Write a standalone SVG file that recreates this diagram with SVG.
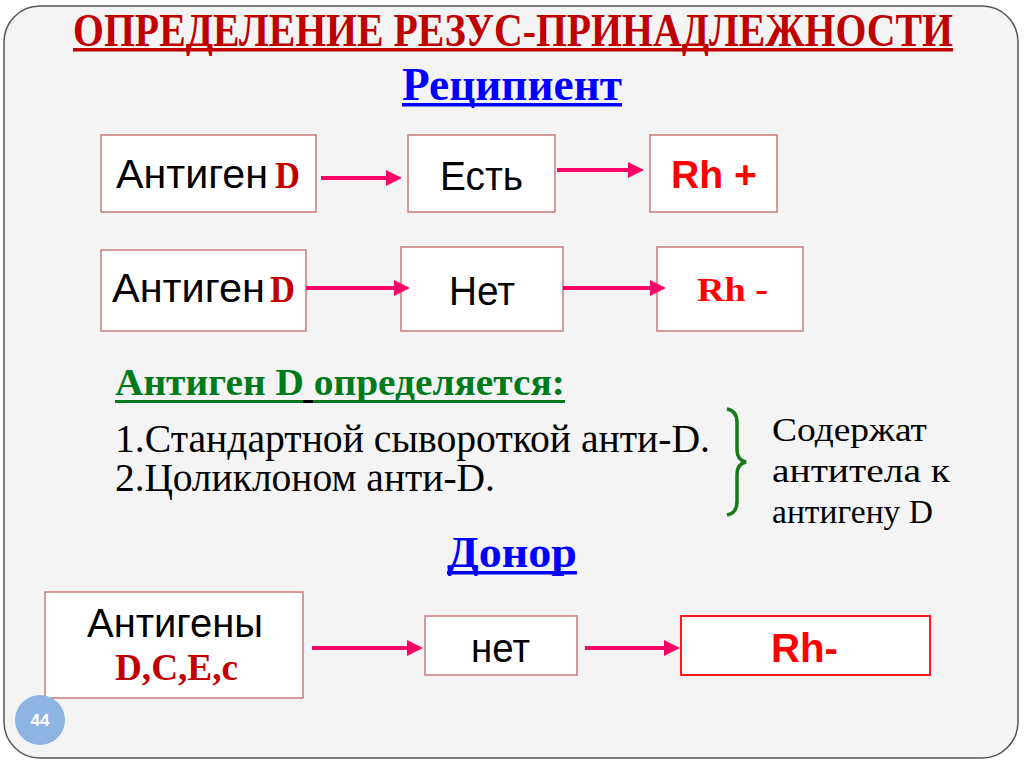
<svg xmlns="http://www.w3.org/2000/svg" width="1024" height="767" viewBox="0 0 1024 767">
<style>
.box{fill:#ffffff;stroke:#c97a7a;stroke-width:1.5}
.boxr{fill:#ffffff;stroke:#ff1a1a;stroke-width:2}
.sans{font-family:"Liberation Sans",Arial,sans-serif}
.serif{font-family:"Liberation Serif","Times New Roman",serif}
.blk{fill:#000000}
.dred{fill:#c00000;font-weight:bold}
.conn{stroke:#ff0066;stroke-width:4;fill:none}
</style>
<defs>
<marker id="ah" markerWidth="4" markerHeight="4" refX="1" refY="2" orient="auto" markerUnits="strokeWidth">
<path d="M0,0 L4,2 L0,4 z" fill="#ff0066"/>
</marker>
</defs>
<rect x="0" y="0" width="1024" height="767" fill="#ffffff"/>
<rect x="4" y="6" width="1014" height="752" rx="36" ry="36" fill="#f4f4f4" stroke="#555555" stroke-width="1.5"/>

<g id="title">
<text x="73" y="46" class="serif" font-size="47" font-weight="bold" fill="#c00000" textLength="880" lengthAdjust="spacingAndGlyphs">ОПРЕДЕЛЕНИЕ РЕЗУС-ПРИНАДЛЕЖНОСТИ</text>
<rect x="73" y="48" width="880" height="3.5" fill="#c00000"/>
</g>

<g id="recipient-heading">
<text x="402" y="100" class="serif" font-size="46" font-weight="bold" fill="#0000ff" textLength="220" lengthAdjust="spacingAndGlyphs">Реципиент</text>
<rect x="402" y="103" width="220" height="3.5" fill="#0000ff"/>
</g>

<g id="r1-antigen">
<rect class="box" x="101" y="135" width="215" height="77"/>
<text x="116" y="188" class="sans blk" font-size="40" textLength="152" lengthAdjust="spacingAndGlyphs">Антиген</text>
<text x="275" y="188" class="serif dred" font-size="38" textLength="25" lengthAdjust="spacingAndGlyphs">D</text>
</g>
<g id="r1-est">
<rect class="box" x="408" y="135" width="147" height="77"/>
<text x="440" y="190" class="sans blk" font-size="40" textLength="83" lengthAdjust="spacingAndGlyphs">Есть</text>
</g>
<g id="r1-rhplus">
<rect class="box" x="650" y="135" width="127" height="77"/>
<text x="671" y="188" class="sans" font-size="39" font-weight="bold" fill="#ff0000" textLength="86" lengthAdjust="spacingAndGlyphs">Rh +</text>
</g>

<g id="r2-antigen">
<rect class="box" x="101" y="250" width="205" height="81"/>
<text x="112" y="302" class="sans blk" font-size="40" textLength="153" lengthAdjust="spacingAndGlyphs">Антиген</text>
<text x="270" y="302" class="serif dred" font-size="38" textLength="25" lengthAdjust="spacingAndGlyphs">D</text>
</g>
<g id="r2-net">
<rect class="box" x="401" y="247" width="162" height="84"/>
<text x="449" y="305" class="sans blk" font-size="40" textLength="66" lengthAdjust="spacingAndGlyphs">Нет</text>
</g>
<g id="r2-rhminus">
<rect class="box" x="657" y="247" width="146" height="84"/>
<text x="697" y="301" class="serif" font-weight="bold" fill="#ff0000" font-size="34" textLength="71" lengthAdjust="spacingAndGlyphs">Rh -</text>
</g>

<g id="method">
<text x="115" y="395" class="serif" font-size="37" font-weight="bold" fill="#007a1a" textLength="450" lengthAdjust="spacingAndGlyphs">Антиген D определяется:</text>
<rect x="115" y="400" width="450" height="3" fill="#007a1a"/>
<rect x="303" y="400" width="10" height="3" fill="#000000"/>
<text x="115" y="452" class="serif blk" font-size="40" textLength="595" lengthAdjust="spacingAndGlyphs">1.Стандартной сывороткой анти-D.</text>
<text x="115" y="491" class="serif blk" font-size="40" textLength="380" lengthAdjust="spacingAndGlyphs">2.Цоликлоном анти-D.</text>
</g>

<g id="brace">
<path d="M727,409 Q737,411 737,422 L737,450 Q737,460 746,462 Q737,464 737,474 L737,502 Q737,513 727,515" fill="none" stroke="#1a7a1a" stroke-width="3.5"/>
</g>

<g id="note">
<text x="772" y="441" class="serif blk" font-size="34" textLength="155" lengthAdjust="spacingAndGlyphs">Содержат</text>
<text x="772" y="482" class="serif blk" font-size="34" textLength="178" lengthAdjust="spacingAndGlyphs">антитела к</text>
<text x="772" y="523" class="serif blk" font-size="34" textLength="161" lengthAdjust="spacingAndGlyphs">антигену D</text>
</g>

<g id="donor-heading">
<text x="447" y="567" class="serif" font-size="45" font-weight="bold" fill="#0000ff" textLength="130" lengthAdjust="spacingAndGlyphs">Донор</text>
<rect x="447" y="571" width="130" height="3.5" fill="#0000ff"/>
</g>

<g id="d-antigens">
<rect class="box" x="45" y="592" width="258" height="106"/>
<text x="87" y="637" class="sans blk" font-size="40" textLength="176" lengthAdjust="spacingAndGlyphs">Антигены</text>
<text x="115" y="680" class="serif dred" font-size="38" textLength="123" lengthAdjust="spacingAndGlyphs">D,C,E,c</text>
</g>
<g id="d-net">
<rect class="box" x="425" y="616" width="152" height="59"/>
<text x="471" y="662" class="sans blk" font-size="40" textLength="59" lengthAdjust="spacingAndGlyphs">нет</text>
</g>
<g id="d-rhminus">
<rect class="boxr" x="681" y="616" width="249" height="59"/>
<text x="771" y="662" class="sans" font-size="40" font-weight="bold" fill="#ff0000" textLength="67" lengthAdjust="spacingAndGlyphs">Rh-</text>
</g>

<g id="connectors">
<line class="conn" x1="321" y1="178" x2="390" y2="178" marker-end="url(#ah)"/>
<line class="conn" x1="557" y1="170" x2="632" y2="170" marker-end="url(#ah)"/>
<line class="conn" x1="306" y1="288" x2="398" y2="288" marker-end="url(#ah)"/>
<line class="conn" x1="563" y1="288" x2="654" y2="288" marker-end="url(#ah)"/>
<line class="conn" x1="312" y1="648" x2="411" y2="648" marker-end="url(#ah)"/>
<line class="conn" x1="585" y1="648" x2="668" y2="648" marker-end="url(#ah)"/>
</g>

<g id="page-number">
<circle cx="40" cy="720" r="25" fill="#8eb4e3"/>
<text x="40" y="726" class="sans" font-size="17" font-weight="bold" fill="#ffffff" text-anchor="middle">44</text>
</g>
</svg>
